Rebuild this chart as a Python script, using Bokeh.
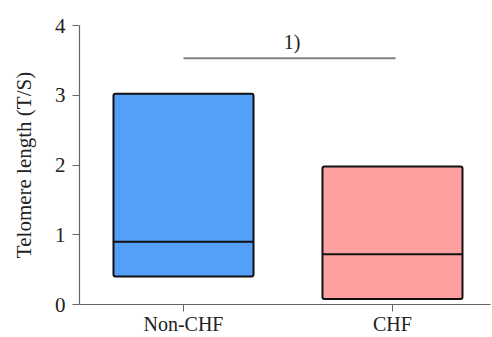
from bokeh.plotting import figure
from bokeh.models import FixedTicker, Range1d, ColumnDataSource
from bokeh.embed import file_html
from bokeh.resources import INLINE
from bokeh.core.properties import value

categories = ["Non-CHF", "CHF"]
q1 = [0.40, 0.08]
median = [0.90, 0.72]
q3 = [3.02, 1.98]
colors = ["#549ff8", "#ffa0a0"]
y_ticks = [0, 1, 2, 3, 4]
annot_y = 3.53
annot_label = "1)"

xs = [i + 1 for i in range(len(categories))]
half = 0.335
src = ColumnDataSource(dict(x=xs, q1=q1, q3=q3, med=median, color=colors,
                            x0=[x - half for x in xs], x1=[x + half for x in xs]))

FONT = "Liberation Serif"
p = figure(width=492, height=337, output_backend="svg", toolbar_location=None,
           x_range=Range1d(0.5024, 2.469), y_range=Range1d(0, 4),
           min_border_left=79, min_border_right=2, min_border_top=25, min_border_bottom=32)
p.outline_line_color = None
p.xgrid.grid_line_color = None
p.ygrid.grid_line_color = None
p.background_fill_color = "white"
p.border_fill_color = "white"

p.vbar(x="x", width=2 * half, bottom="q1", top="q3", source=src, fill_color="color",
       line_color="#111111", line_width=2, border_radius=2)
p.segment(x0="x0", x1="x1", y0="med", y1="med", source=src, line_color="#111111", line_width=2)

p.segment(x0=[xs[0]], x1=[xs[1] + 0.015], y0=[annot_y], y1=[annot_y], line_color="#808080", line_width=2)
p.text(x=[(xs[0] + xs[1]) / 2 + 0.02], y=[annot_y], text=[annot_label], text_align="center",
       text_baseline="bottom", y_offset=-5, text_font=value(FONT), text_font_size="20px",
       text_color="#222222")

for ax in (p.xaxis[0], p.yaxis[0]):
    ax.axis_line_color = "#666666"
    ax.axis_line_width = 1.2
    ax.major_tick_line_color = "#666666"
    ax.major_tick_out = 7
    ax.major_tick_in = 0
    ax.minor_tick_line_color = None
    ax.major_label_text_font = FONT
    ax.major_label_text_font_size = "21px"
    ax.major_label_text_color = "#222222"
    ax.axis_label_text_font = FONT
    ax.axis_label_text_font_style = "normal"
    ax.axis_label_text_color = "#222222"

p.xaxis.ticker = FixedTicker(ticks=xs)
p.xaxis.major_label_overrides = {x: c for x, c in zip(xs, categories)}
p.xaxis.major_label_text_font_size = "20px"
p.xaxis.major_label_standoff = 1
p.yaxis.ticker = FixedTicker(ticks=y_ticks)
p.yaxis.axis_label = "Telomere length (T/S)"
p.yaxis.axis_label_text_font_size = "21px"
p.yaxis.major_label_standoff = 7
p.yaxis.axis_label_standoff = 16

open("out.html", "w").write(file_html(p, INLINE))
